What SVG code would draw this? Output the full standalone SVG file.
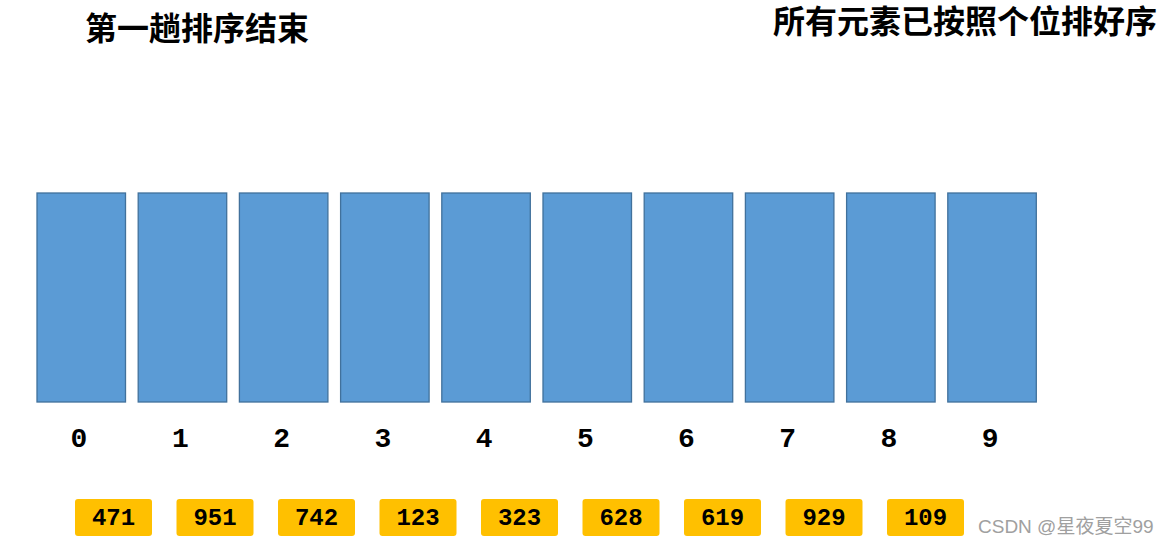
<svg xmlns="http://www.w3.org/2000/svg" width="1169" height="546" viewBox="0 0 1169 546">
<style>
.title{font-family:"Liberation Sans","Noto Sans CJK SC",sans-serif;font-weight:bold;font-size:32px;fill:#000}
.bucket{fill:#5B9BD5;stroke:#41719C;stroke-width:1.3}
.idx{font-family:"Liberation Mono",monospace;font-weight:bold;font-size:28px;fill:#000;text-anchor:middle}
.tag{fill:#FFC000}
.num{font-family:"Liberation Mono",monospace;font-weight:bold;font-size:24px;fill:#000;text-anchor:middle}
.wm{font-family:"Liberation Sans","Noto Sans CJK SC",sans-serif;font-size:19px;fill:#A0A0A0}
</style>
<rect width="1169" height="546" fill="#fff"/>
<text class="title" x="85" y="40">第一趟排序结束</text>
<text class="title" x="773" y="33">所有元素已按照个位排好序</text>
<g id="buckets">
<g id="b0"><rect class="bucket" x="37" y="193" width="88.5" height="209"/><text class="idx" x="79" y="447">0</text></g>
<g id="b1"><rect class="bucket" x="138.2" y="193" width="88.5" height="209"/><text class="idx" x="180.5" y="447">1</text></g>
<g id="b2"><rect class="bucket" x="239.4" y="193" width="88.5" height="209"/><text class="idx" x="281.7" y="447">2</text></g>
<g id="b3"><rect class="bucket" x="340.6" y="193" width="88.5" height="209"/><text class="idx" x="382.9" y="447">3</text></g>
<g id="b4"><rect class="bucket" x="441.8" y="193" width="88.5" height="209"/><text class="idx" x="484.1" y="447">4</text></g>
<g id="b5"><rect class="bucket" x="543" y="193" width="88.5" height="209"/><text class="idx" x="585.3" y="447">5</text></g>
<g id="b6"><rect class="bucket" x="644.2" y="193" width="88.5" height="209"/><text class="idx" x="686.5" y="447">6</text></g>
<g id="b7"><rect class="bucket" x="745.4" y="193" width="88.5" height="209"/><text class="idx" x="787.7" y="447">7</text></g>
<g id="b8"><rect class="bucket" x="846.6" y="193" width="88.5" height="209"/><text class="idx" x="888.9" y="447">8</text></g>
<g id="b9"><rect class="bucket" x="947.8" y="193" width="88.5" height="209"/><text class="idx" x="990.1" y="447">9</text></g>
</g>
<g id="values">
<g id="v0"><rect class="tag" x="75" y="499" width="77" height="37" rx="3"/><text class="num" x="113.5" y="525">471</text></g>
<g id="v1"><rect class="tag" x="176.5" y="499" width="77" height="37" rx="3"/><text class="num" x="215" y="525">951</text></g>
<g id="v2"><rect class="tag" x="278" y="499" width="77" height="37" rx="3"/><text class="num" x="316.5" y="525">742</text></g>
<g id="v3"><rect class="tag" x="379.5" y="499" width="77" height="37" rx="3"/><text class="num" x="418" y="525">123</text></g>
<g id="v4"><rect class="tag" x="481" y="499" width="77" height="37" rx="3"/><text class="num" x="519.5" y="525">323</text></g>
<g id="v5"><rect class="tag" x="582.5" y="499" width="77" height="37" rx="3"/><text class="num" x="621" y="525">628</text></g>
<g id="v6"><rect class="tag" x="684" y="499" width="77" height="37" rx="3"/><text class="num" x="722.5" y="525">619</text></g>
<g id="v7"><rect class="tag" x="785.5" y="499" width="77" height="37" rx="3"/><text class="num" x="824" y="525">929</text></g>
<g id="v8"><rect class="tag" x="887" y="499" width="77" height="37" rx="3"/><text class="num" x="925.5" y="525">109</text></g>
</g>
<g id="connectors"></g>
<text class="wm" x="978" y="533">CSDN @星夜夏空99</text>
</svg>
